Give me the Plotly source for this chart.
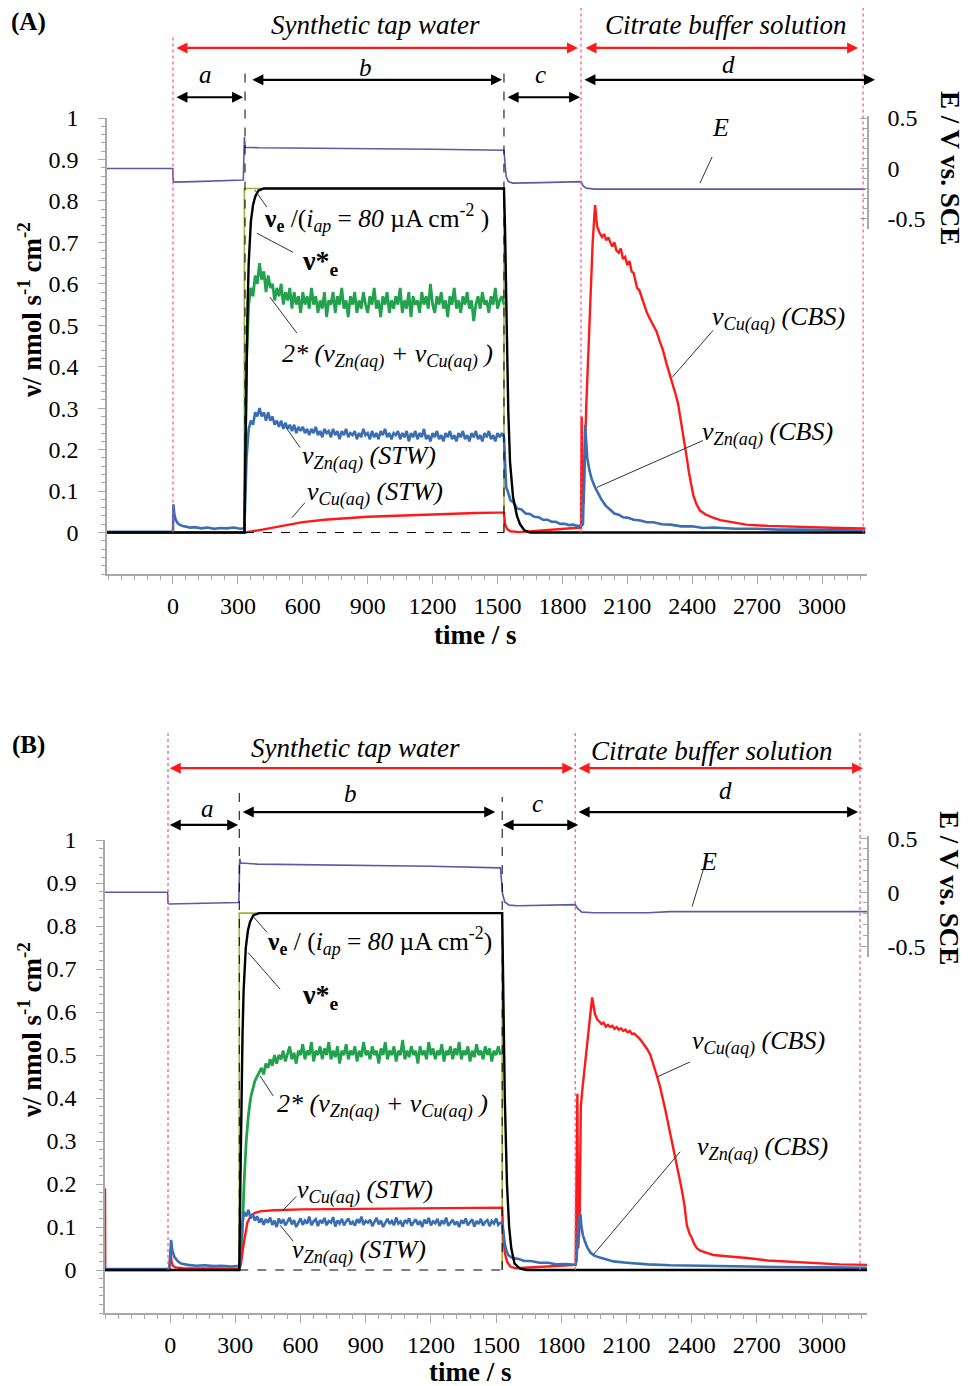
import plotly.graph_objects as go

FONT = "Liberation Serif"
RED = "#ff1a1a"
BLUE = "#3b6db3"
GREEN = "#22a24c"
OLIVE = "#a3b136"
EPURP = "#5c5aa8"
PINK = "#ff4f7b"

# ---------------- panel A : data ----------------
a_ve_t = [330, 330, 1530, 1530]
a_ve_v = [0.0, 0.83, 0.83, 0.0]

a_vstar_t = [-305, 330, 335, 340, 345, 350, 360, 370, 380, 395, 420, 1530, 1535, 1543,
             1550, 1558, 1572, 1590, 1604, 1625, 1650, 3200]
a_vstar_v = [0, 0, 0.2, 0.4, 0.55, 0.65, 0.75, 0.79, 0.81, 0.825, 0.83, 0.83, 0.73, 0.49,
             0.29, 0.17, 0.085, 0.04, 0.02, 0.005, 0, 0]

a_sum_t = list(range(330, 1531, 10))
a_sum_v = [0.02, 0.42, 0.55, 0.59, 0.57, 0.62, 0.60, 0.65, 0.61, 0.63,
           0.58, 0.62, 0.59, 0.60, 0.56, 0.59, 0.57, 0.60, 0.55, 0.58,
           0.56, 0.59, 0.54, 0.58, 0.55, 0.57, 0.53, 0.58, 0.55, 0.57,
           0.54, 0.59, 0.55, 0.57, 0.53, 0.56, 0.54, 0.58, 0.52, 0.56,
           0.55, 0.58, 0.53, 0.57, 0.55, 0.59, 0.54, 0.56, 0.52, 0.57,
           0.55, 0.58, 0.53, 0.56, 0.54, 0.58, 0.55, 0.53, 0.57, 0.55,
           0.59, 0.54, 0.56, 0.52, 0.57, 0.55, 0.58, 0.53, 0.56, 0.54,
           0.57, 0.55, 0.59, 0.53, 0.56, 0.54, 0.58, 0.52, 0.57, 0.55,
           0.56, 0.53, 0.58, 0.55, 0.57, 0.54, 0.60, 0.55, 0.53, 0.57,
           0.55, 0.58, 0.54, 0.56, 0.52, 0.57, 0.55, 0.59, 0.54, 0.56,
           0.53, 0.57, 0.55, 0.58, 0.54, 0.56, 0.51, 0.55, 0.57, 0.54,
           0.58, 0.55, 0.56, 0.53, 0.57, 0.55, 0.59, 0.54, 0.56, 0.57,
           0.55]

# Zn(aq): before / open circuit part
a_zn_pre_t = [-305, -1, 0, 2, 6, 12, 20, 30, 45, 60, 80, 100, 130, 160, 190, 220, 250, 280, 310]
a_zn_pre_v = [0.002, 0.002, 0.0, 0.068, 0.045, 0.032, 0.024, 0.019, 0.016, 0.014, 0.012, 0.013,
              0.010, 0.012, 0.009, 0.011, 0.010, 0.012, 0.009]
# Zn(aq): galvanostatic part
a_zn_mid_t = list(range(330, 1531, 10))
a_zn_mid_v = [0.01, 0.18, 0.25, 0.27, 0.26, 0.29, 0.28, 0.30, 0.28, 0.29,
              0.27, 0.29, 0.27, 0.28, 0.26, 0.27, 0.255, 0.27, 0.25, 0.265,
              0.25, 0.26, 0.245, 0.26, 0.24, 0.255, 0.245, 0.255, 0.24, 0.25,
              0.235, 0.25, 0.24, 0.255, 0.235, 0.245, 0.23, 0.25, 0.24, 0.245,
              0.23, 0.25, 0.235, 0.245, 0.225, 0.245, 0.235, 0.25, 0.23, 0.24,
              0.235, 0.245, 0.225, 0.24, 0.23, 0.25, 0.235, 0.24, 0.225, 0.245,
              0.23, 0.24, 0.225, 0.245, 0.235, 0.25, 0.23, 0.24, 0.225, 0.24,
              0.235, 0.245, 0.225, 0.24, 0.23, 0.245, 0.22, 0.24, 0.23, 0.245,
              0.225, 0.24, 0.23, 0.25, 0.225, 0.235, 0.22, 0.24, 0.23, 0.245,
              0.225, 0.235, 0.22, 0.24, 0.23, 0.245, 0.225, 0.235, 0.22, 0.24,
              0.23, 0.245, 0.225, 0.235, 0.22, 0.24, 0.23, 0.245, 0.225, 0.235,
              0.22, 0.24, 0.23, 0.245, 0.225, 0.235, 0.22, 0.24, 0.23, 0.24,
              0.23]
# Zn(aq): relaxation + citrate buffer
a_zn_post_t = [1535, 1540, 1550, 1560, 1575, 1590, 1610, 1630, 1650, 1670, 1690, 1710, 1730, 1750,
               1770, 1790, 1810, 1830, 1850, 1870, 1890, 1895, 1900, 1905, 1910, 1915, 1925, 1935,
               1950, 1965, 1980, 2000, 2020, 2040, 2060, 2080, 2100, 2130, 2160, 2190, 2220, 2260,
               2300, 2350, 2400, 2450, 2500, 2600, 2700, 2800, 2900, 3000, 3100, 3200]
a_zn_post_v = [0.15, 0.11, 0.095, 0.078, 0.072, 0.058, 0.056, 0.046, 0.045, 0.038, 0.037, 0.031,
               0.031, 0.026, 0.026, 0.021, 0.021, 0.018, 0.019, 0.016, 0.017, 0.02, 0.12, 0.26,
               0.22, 0.18, 0.15, 0.13, 0.11, 0.095, 0.08, 0.065, 0.056, 0.046, 0.043, 0.037, 0.036,
               0.031, 0.029, 0.025, 0.025, 0.020, 0.019, 0.015, 0.015, 0.011, 0.012, 0.009, 0.009,
               0.007, 0.007, 0.006, 0.005, 0.005]

a_cu_t = [-305, 330, 400, 500, 600, 700, 800, 900, 1000, 1100, 1200, 1300, 1400, 1500, 1530,
          1535, 1545, 1560, 1600, 1886, 1889, 1893, 1898, 1910, 1925, 1940, 1951, 1960, 1970,
          1983, 1993, 2003, 2012, 2020, 2030, 2040, 2050, 2060, 2070, 2080, 2090, 2100, 2110,
          2120, 2130, 2145, 2155, 2165, 2175, 2191, 2205, 2220, 2235, 2251, 2265, 2280, 2298,
          2310, 2325, 2335, 2345, 2355, 2365, 2375, 2385, 2395, 2405, 2420, 2436, 2460, 2490,
          2530, 2590, 2650, 2750, 2850, 2960, 3080, 3200]
a_cu_v = [0, 0, 0.006, 0.016, 0.025, 0.031, 0.035, 0.038, 0.040, 0.042, 0.044, 0.045, 0.047,
          0.048, 0.048, 0.02, 0.008, 0.003, 0.001, 0.012, 0.28, 0.09, 0.07, 0.30, 0.52, 0.70,
          0.79, 0.74, 0.725, 0.713, 0.72, 0.705, 0.712, 0.70, 0.69, 0.70, 0.68, 0.675, 0.685,
          0.66, 0.665, 0.645, 0.655, 0.63, 0.625, 0.59, 0.585, 0.57, 0.555, 0.53, 0.515, 0.50,
          0.485, 0.46, 0.44, 0.41, 0.38, 0.355, 0.33, 0.31, 0.28, 0.25, 0.215, 0.18, 0.145,
          0.115, 0.09, 0.068, 0.053, 0.044, 0.037, 0.030, 0.024, 0.019, 0.016, 0.014, 0.012,
          0.011, 0.010]

a_e_t = [-305, -1, 0, 3, 100, 200, 325, 330, 334, 400, 800, 1200, 1530, 1535, 1540, 1550, 1570,
         1700, 1886, 1895, 1910, 1950, 3200]
a_e_v = [0.0, 0.0, -0.10, -0.135, -0.13, -0.125, -0.115, 0.31, 0.21, 0.205, 0.20, 0.19, 0.18,
         0.05, -0.08, -0.13, -0.145, -0.14, -0.13, -0.17, -0.195, -0.205, -0.205]

# ---------------- panel B : data ----------------
b_ve_t = [318, 318, 1528, 1528]
b_ve_v = [0.0, 0.83, 0.83, 0.0]

b_vstar_t = [-300, 318, 323, 328, 333, 338, 348, 358, 368, 383, 410, 1528, 1533, 1540, 1550,
             1560, 1570, 1585, 1610, 1640, 3207]
b_vstar_v = [0, 0, 0.2, 0.4, 0.55, 0.65, 0.75, 0.79, 0.81, 0.825, 0.83, 0.83, 0.65, 0.4, 0.2,
             0.1, 0.05, 0.015, 0.003, 0, 0]

b_sum_t = list(range(320, 1521, 10))
b_sum_v = [0.01, 0.06, 0.20, 0.30, 0.36, 0.40, 0.42, 0.44, 0.45, 0.46,
           0.47, 0.455, 0.48, 0.47, 0.49, 0.475, 0.50, 0.48, 0.50, 0.49,
           0.51, 0.485, 0.50, 0.52, 0.49, 0.505, 0.48, 0.51, 0.50, 0.525,
           0.49, 0.51, 0.50, 0.53, 0.485, 0.51, 0.50, 0.52, 0.49, 0.515,
           0.50, 0.53, 0.49, 0.51, 0.495, 0.52, 0.48, 0.51, 0.50, 0.525,
           0.49, 0.51, 0.50, 0.52, 0.485, 0.51, 0.495, 0.53, 0.50, 0.51,
           0.49, 0.52, 0.50, 0.51, 0.48, 0.515, 0.50, 0.53, 0.49, 0.51,
           0.50, 0.52, 0.485, 0.51, 0.50, 0.535, 0.49, 0.51, 0.495, 0.52,
           0.50, 0.51, 0.48, 0.52, 0.50, 0.51, 0.49, 0.53, 0.50, 0.515,
           0.49, 0.51, 0.50, 0.525, 0.485, 0.51, 0.50, 0.52, 0.49, 0.515,
           0.50, 0.53, 0.49, 0.51, 0.50, 0.52, 0.485, 0.51, 0.495, 0.525,
           0.50, 0.51, 0.49, 0.52, 0.50, 0.515, 0.485, 0.51, 0.50, 0.52,
           0.50]

b_zn_pre_t = [-300, -8, -5, -2, 4, 10, 20, 35, 50, 80, 120, 160, 200, 240, 280, 315]
b_zn_pre_v = [0.002, 0.002, 0.0, 0.01, 0.07, 0.045, 0.03, 0.02, 0.015, 0.012, 0.010, 0.011,
              0.009, 0.010, 0.008, 0.009]
b_zn_mid_t = list(range(320, 1521, 10))
b_zn_mid_v = [0.01, 0.10, 0.135, 0.125, 0.14, 0.12, 0.13, 0.115, 0.125, 0.11,
              0.12, 0.105, 0.118, 0.11, 0.122, 0.105, 0.115, 0.10, 0.12, 0.108,
              0.118, 0.104, 0.114, 0.122, 0.106, 0.116, 0.100, 0.112, 0.120, 0.105,
              0.115, 0.108, 0.124, 0.104, 0.113, 0.118, 0.102, 0.116, 0.109, 0.121,
              0.104, 0.114, 0.110, 0.123, 0.101, 0.115, 0.108, 0.119, 0.104, 0.113,
              0.120, 0.106, 0.112, 0.103, 0.118, 0.109, 0.124, 0.105, 0.114, 0.110,
              0.117, 0.102, 0.113, 0.121, 0.106, 0.115, 0.100, 0.111, 0.119, 0.107,
              0.114, 0.104, 0.122, 0.108, 0.113, 0.101, 0.116, 0.110, 0.120, 0.103,
              0.112, 0.118, 0.105, 0.114, 0.100, 0.117, 0.108, 0.121, 0.104, 0.113,
              0.109, 0.119, 0.102, 0.115, 0.107, 0.122, 0.103, 0.111, 0.117, 0.105,
              0.113, 0.100, 0.116, 0.108, 0.120, 0.104, 0.112, 0.118, 0.101, 0.114,
              0.107, 0.119, 0.103, 0.112, 0.116, 0.102, 0.114, 0.108, 0.120, 0.105,
              0.11]
b_zn_post_t = [1528, 1533, 1540, 1548, 1556, 1566, 1580, 1600, 1630, 1660, 1700, 1740, 1780,
               1820, 1864, 1870, 1876, 1880, 1884, 1888, 1893, 1900, 1910, 1920, 1935, 1950,
               1970, 2000, 2040, 2100, 2200, 2300, 2400, 2600, 2800, 3000, 3207]
b_zn_post_v = [0.11, 0.09, 0.06, 0.045, 0.035, 0.031, 0.027, 0.026, 0.021, 0.021, 0.017, 0.017,
               0.013, 0.014, 0.012, 0.02, 0.09, 0.125, 0.10, 0.13, 0.10, 0.08, 0.065, 0.052,
               0.04, 0.034, 0.030, 0.025, 0.020, 0.017, 0.013, 0.011, 0.010, 0.008, 0.007,
               0.006, 0.005]

b_cu_t = [-300, -299, -5, 2, 6, 12, 25, 60, 318, 325, 335, 345, 355, 370, 390, 420, 480, 600,
          800, 1000, 1200, 1400, 1528, 1533, 1540, 1550, 1565, 1590, 1866, 1874, 1878, 1884,
          1890, 1897, 1910, 1925, 1942, 1955, 1965, 1975, 1985, 1995, 2005, 2015, 2025, 2035,
          2045, 2055, 2065, 2075, 2085, 2095, 2105, 2115, 2125, 2135, 2149, 2160, 2172, 2184,
          2195, 2210, 2225, 2241, 2255, 2269, 2280, 2292, 2305, 2315, 2325, 2335, 2347, 2357,
          2367, 2378, 2390, 2400, 2412, 2425, 2440, 2470, 2500, 2560, 2655, 2750, 2850, 2959,
          3080, 3207]
b_cu_v = [0.19, 0.0, 0.0, 0.045, 0.02, 0.01, 0.006, 0.004, 0.003, 0.012, 0.05, 0.085, 0.11,
          0.125, 0.133, 0.137, 0.139, 0.141, 0.142, 0.143, 0.144, 0.145, 0.145, 0.08, 0.04,
          0.02, 0.008, 0.004, 0.012, 0.41, 0.05, 0.10, 0.38, 0.42, 0.48, 0.56, 0.634, 0.595,
          0.583, 0.578, 0.572, 0.575, 0.566, 0.57, 0.565, 0.568, 0.561, 0.565, 0.559, 0.562,
          0.556, 0.559, 0.553, 0.556, 0.549, 0.550, 0.544, 0.538, 0.53, 0.522, 0.514, 0.50,
          0.478, 0.45, 0.425, 0.398, 0.37, 0.34, 0.31, 0.28, 0.26, 0.235, 0.206, 0.18, 0.15,
          0.104, 0.085, 0.075, 0.06, 0.05, 0.045, 0.04, 0.035, 0.032, 0.028, 0.022, 0.019,
          0.016, 0.013, 0.012]

b_e_t = [-300, -12, -10, -5, 100, 200, 316, 320, 325, 400, 800, 1200, 1520, 1525, 1530, 1540,
         1560, 1600, 1864, 1875, 1895, 1950, 2200, 2300, 3207]
b_e_v = [0.0, 0.0, -0.10, -0.11, -0.105, -0.10, -0.095, 0.31, 0.27, 0.26, 0.25, 0.24, 0.225,
         0.10, -0.02, -0.09, -0.12, -0.125, -0.115, -0.15, -0.185, -0.19, -0.19, -0.18, -0.18]

# tick labels
x_ticks = [0, 300, 600, 900, 1200, 1500, 1800, 2100, 2400, 2700, 3000]
v_ticks = [0, 0.1, 0.2, 0.3, 0.4, 0.5, 0.6, 0.7, 0.8, 0.9, 1.0]
v_tick_text = ["0", "0.1", "0.2", "0.3", "0.4", "0.5", "0.6", "0.7", "0.8", "0.9", "1"]
e_ticks = [-0.5, 0, 0.5]

# ---------------- layout geometry (page pixels -> paper) ----------------
OFF = 8                      # default body margin of the html page
FW, FH = 960, 1378


def px(x):
    return (x - OFF) / FW


def py(y):
    return 1 - (y - OFF) / FH


A_X_DOM = [px(107), px(867)]
A_Y_DOM = [py(574), py(118)]
A_E_DOM = [py(229), py(116)]
B_X_DOM = [px(105), px(867)]
B_Y_DOM = [py(1313), py(840)]
B_E_DOM = [py(957), py(836)]
V_RANGE = [-0.1, 1.0]
E_RANGE = [-0.6, 0.52]


def pa(v):
    return A_Y_DOM[0] + (v - V_RANGE[0]) / (V_RANGE[1] - V_RANGE[0]) * (A_Y_DOM[1] - A_Y_DOM[0])


def pb(v):
    return B_Y_DOM[0] + (v - V_RANGE[0]) / (V_RANGE[1] - V_RANGE[0]) * (B_Y_DOM[1] - B_Y_DOM[0])


fig = go.Figure()


def line(t, v, color, width, xa, ya):
    fig.add_trace(go.Scatter(x=t, y=v, mode="lines", xaxis=xa, yaxis=ya,
                             line=dict(color=color, width=width),
                             showlegend=False, hoverinfo="skip"))


# panel A traces
line(a_ve_t, a_ve_v, OLIVE, 1.6, "x", "y")
line(a_sum_t, a_sum_v, GREEN, 2.8, "x", "y")
line(a_cu_t, a_cu_v, RED, 2.4, "x", "y")
line(a_zn_pre_t + a_zn_mid_t + a_zn_post_t, a_zn_pre_v + a_zn_mid_v + a_zn_post_v, BLUE, 2.6, "x", "y")
line(a_vstar_t, a_vstar_v, "black", 2.4, "x", "y")
line(a_e_t, a_e_v, EPURP, 1.6, "x", "y2")

# panel B traces
line(b_ve_t, b_ve_v, OLIVE, 1.6, "x2", "y3")
line(b_sum_t, b_sum_v, GREEN, 2.8, "x2", "y3")
line(b_cu_t, b_cu_v, RED, 2.4, "x2", "y3")
line(b_zn_pre_t + b_zn_mid_t + b_zn_post_t, b_zn_pre_v + b_zn_mid_v + b_zn_post_v, BLUE, 2.6, "x2", "y3")
line(b_vstar_t, b_vstar_v, "black", 2.4, "x2", "y3")
line(b_e_t, b_e_v, EPURP, 1.6, "x2", "y4")

shapes = []
annotations = []
tfont = dict(family=FONT, size=24, color="black")
LBL = 26


def vline(xref, t, y0, y1, color, dash, width=1.2):
    shapes.append(dict(type="line", xref=xref, yref="paper", x0=t, x1=t, y0=y0, y1=y1,
                       line=dict(color=color, dash=dash, width=width)))


def leader(xref, yref, t0, v0, t1, v1):
    shapes.append(dict(type="line", xref=xref, yref=yref, x0=t0, y0=v0, x1=t1, y1=v1,
                       line=dict(color="#333333", width=1)))


def darrow(xref, t0, t1, y, color):
    annotations.append(dict(x=t1, y=y, xref=xref, yref="paper", ax=t0, ay=0, axref=xref,
                            ayref="pixel", text="", showarrow=True, arrowhead=2,
                            arrowside="end+start", arrowsize=1, arrowwidth=2.2,
                            arrowcolor=color, standoff=0, startstandoff=0))


def label(xref, t, y, text, size=LBL, anchor="left"):
    annotations.append(dict(x=t, y=y, xref=xref, yref="paper", text=text, showarrow=False,
                            xanchor=anchor, yanchor="middle",
                            font=dict(family=FONT, size=size, color="black")))


def page_text(x, y, text, angle=0, size=26):
    annotations.append(dict(x=px(x), y=py(y), xref="paper", yref="paper", text=text,
                            textangle=angle, xanchor="center", yanchor="middle",
                            showarrow=False, font=dict(family=FONT, size=size, color="black")))


# ---- panel A decorations ----
vline("x", 0, pa(0), pa(1.2), PINK, "dot")
vline("x", 1886, pa(0), pa(1.27), PINK, "dot")
vline("x", 3190, pa(0), pa(1.27), PINK, "dot")
vline("x", 333, pa(0), pa(1.11), "black", "dash", 1)
vline("x", 1530, pa(0), pa(1.11), "black", "dash", 1)
shapes.append(dict(type="line", xref="x", yref="y", x0=333, x1=1530, y0=0, y1=0,
                   line=dict(color="black", dash="dash", width=1)))

darrow("x", 9, 1872, pa(1.169), RED)
darrow("x", 1900, 3167, pa(1.169), RED)
darrow("x", 9, 324, pa(1.05), "black")
darrow("x", 360, 1521, pa(1.092), "black")
darrow("x", 1540, 1882, pa(1.05), "black")
darrow("x", 1895, 3245, pa(1.092), "black")

label("x", 934, pa(1.224), "<i>Synthetic tap water</i>", 27, "center")
label("x", 2557, pa(1.224), "<i>Citrate buffer solution</i>", 27, "center")
label("x", 152, pa(1.104), "<i>a</i>", 25, "center")
label("x", 892, pa(1.123), "<i>b</i>", 25, "center")
label("x", 1701, pa(1.104), "<i>c</i>", 25, "center")
label("x", 2566, pa(1.128), "<i>d</i>", 25, "center")

label("x", 411, pa(0.758), "<b>ν<sub>e</sub></b> /(<i>i<sub>ap</sub></i> = <i>80</i> µA cm<sup>-2</sup> )", 25.5)
label("x", 587, pa(0.652), "<b>ν*<sub>e</sub></b>", 28)
label("x", 495, pa(0.4275), "<i>2* (ν<sub>Zn(aq)</sub> + ν<sub>Cu(aq)</sub> )</i>")
label("x", 587, pa(0.181), "<i>ν<sub>Zn(aq)</sub> (STW)</i>")
label("x", 610, pa(0.094), "<i>ν<sub>Cu(aq)</sub> (STW)</i>")
label("x", 2483, pa(0.517), "<i>ν<sub>Cu(aq)</sub> (CBS)</i>")
label("x", 2436, pa(0.239), "<i>ν<sub>Zn(aq)</sub> (CBS)</i>")
label("x", 2529, pa(0.978), "<i>E</i>", 26, "center")

leader("x", "y", 379, 0.826, 434, 0.785)
leader("x", "y", 388, 0.722, 555, 0.676)
leader("x", "y", 448, 0.568, 573, 0.481)
leader("x", "y", 522, 0.254, 587, 0.205)
leader("x", "y", 550, 0.036, 610, 0.072)
leader("x", "y", 2497, 0.488, 2307, 0.374)
leader("x", "y", 2450, 0.222, 1960, 0.109)
leader("x", "y", 2492, 0.906, 2436, 0.843)

# ---- panel B decorations ----
vline("x2", -10, pb(0), pb(1.255), PINK, "dot")
vline("x2", 1864, pb(0), pb(1.255), PINK, "dot")
vline("x2", 3175, pb(0), pb(1.255), PINK, "dot")
vline("x2", 318, pb(0), pb(1.116), "black", "dash", 1)
vline("x2", 1528, pb(0), pb(1.10), "black", "dash", 1)
shapes.append(dict(type="line", xref="x2", yref="y3", x0=318, x1=1528, y0=0, y1=0,
                   line=dict(color="black", dash="dash", width=1)))

darrow("x2", -9, 1855, pb(1.167), RED)
darrow("x2", 1873, 3189, pb(1.167), RED)
darrow("x2", -9, 313, pb(1.035), "black")
darrow("x2", 327, 1496, pb(1.065), "black")
darrow("x2", 1523, 1878, pb(1.035), "black")
darrow("x2", 1873, 3166, pb(1.065), "black")

label("x2", 851, pb(1.215), "<i>Synthetic tap water</i>", 27, "center")
label("x2", 2494, pb(1.208), "<i>Citrate buffer solution</i>", 27, "center")
label("x2", 170, pb(1.074), "<i>a</i>", 25, "center")
label("x2", 828, pb(1.109), "<i>b</i>", 25, "center")
label("x2", 1689, pb(1.086), "<i>c</i>", 25, "center")
label("x2", 2554, pb(1.116), "<i>d</i>", 25, "center")

label("x2", 437, pb(0.764), "<b>ν<sub>e</sub></b> / (<i>i<sub>ap</sub></i> = <i>80</i> µA cm<sup>-2</sup>)", 25.5)
label("x2", 598, pb(0.637), "<b>ν*<sub>e</sub></b>", 28)
label("x2", 483, pb(0.382), "<i>2* (ν<sub>Zn(aq)</sub> + ν<sub>Cu(aq)</sub> )</i>")
label("x2", 575, pb(0.183), "<i>ν<sub>Cu(aq)</sub> (STW)</i>")
label("x2", 552, pb(0.044), "<i>ν<sub>Zn(aq)</sub> (STW)</i>")
label("x2", 2393, pb(0.53), "<i>ν<sub>Cu(aq)</sub> (CBS)</i>")
label("x2", 2416, pb(0.282), "<i>ν<sub>Zn(aq)</sub> (CBS)</i>")
label("x2", 2476, pb(0.949), "<i>E</i>", 26, "center")

leader("x2", "y3", 382, 0.822, 446, 0.785)
leader("x2", "y3", 359, 0.738, 506, 0.653)
leader("x2", "y3", 414, 0.451, 474, 0.405)
leader("x2", "y3", 515, 0.137, 580, 0.171)
leader("x2", "y3", 506, 0.104, 566, 0.067)
leader("x2", "y3", 2393, 0.484, 2241, 0.449)
leader("x2", "y3", 2347, 0.275, 1947, 0.035)
leader("x2", "y3", 2453, 0.93, 2402, 0.845)

# panel letters and axis titles
page_text(28, 22, "<b>(A)</b>", 0, 25)
page_text(28, 745, "<b>(B)</b>", 0, 25)
page_text(30, 310, "<b>ν/ nmol s<sup>-1</sup> cm<sup>-2</sup></b>", -90, 27)
page_text(30, 1030, "<b>ν/ nmol s<sup>-1</sup> cm<sup>-2</sup></b>", -90, 27)
page_text(950, 168, "<b>E / V vs. SCE</b>", 90, 27)
page_text(949, 888, "<b>E / V vs. SCE</b>", 90, 27)
page_text(475, 635, "<b>time / s</b>", 0, 27)
page_text(470, 1372, "<b>time / s</b>", 0, 27)

AX = "#a8a8a8"


def xaxis(dom, anchor, rng):
    return dict(domain=dom, anchor=anchor, range=rng, tickvals=x_ticks,
                ticktext=[str(t) for t in x_ticks], showline=True, linecolor=AX, linewidth=1.5,
                ticks="outside", ticklen=8, tickcolor=AX, tickfont=tfont, showgrid=False,
                zeroline=False, ticklabelstandoff=1, automargin=False,
                minor=dict(tickmode="linear", tick0=0, dtick=60, ticks="outside", ticklen=4,
                           tickcolor=AX, showgrid=False))


def vaxis(dom, anchor):
    return dict(domain=dom, anchor=anchor, range=V_RANGE, tickvals=v_ticks, ticktext=v_tick_text,
                showline=True, linecolor=AX, linewidth=1.5, ticks="outside", ticklen=7,
                tickcolor=AX, tickfont=tfont, showgrid=False, zeroline=False,
                ticklabelstandoff=15, automargin=False,
                minor=dict(tickmode="linear", tick0=0, dtick=0.02, ticks="outside", ticklen=4,
                           tickcolor=AX, showgrid=False))


def eaxis(dom, anchor):
    return dict(domain=dom, anchor=anchor, side="right", range=E_RANGE, tickvals=e_ticks,
                ticktext=["-0.5", "0", "0.5"], showline=True, linecolor=AX, linewidth=1.5,
                ticks="inside", ticklen=7, tickcolor=AX, tickfont=tfont, showgrid=False,
                zeroline=False, ticklabelstandoff=14, automargin=False,
                minor=dict(tickmode="linear", tick0=0, dtick=0.1, ticks="inside", ticklen=4,
                           tickcolor=AX, showgrid=False))


fig.update_layout(
    width=FW, height=FH,
    margin=dict(l=0, r=0, t=0, b=0),
    paper_bgcolor="white", plot_bgcolor="rgba(0,0,0,0)",
    font=dict(family=FONT, color="black"),
    showlegend=False,
    xaxis=xaxis(A_X_DOM, "y", [-305, 3208]),
    yaxis=vaxis(A_Y_DOM, "x"),
    yaxis2=eaxis(A_E_DOM, "x"),
    xaxis2=xaxis(B_X_DOM, "y3", [-300, 3207]),
    yaxis3=vaxis(B_Y_DOM, "x2"),
    yaxis4=eaxis(B_E_DOM, "x2"),
    shapes=shapes,
    annotations=annotations,
)

fig.write_html("out.html")
